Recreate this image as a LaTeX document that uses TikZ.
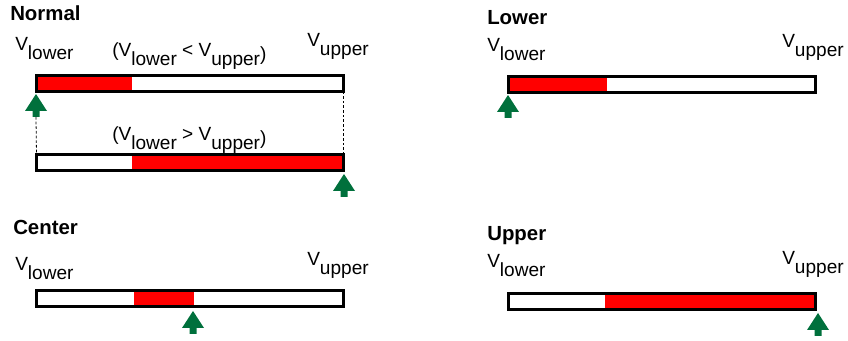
\documentclass[tikz,border=0pt]{standalone}
\usepackage{fontspec}
\setmainfont{Liberation Sans}
\definecolor{pointgreen}{RGB}{0,112,60}
\newcommand{\vsub}[1]{V\raisebox{-0.45em}{#1}}

\begin{document}
\begin{tikzpicture}[
    x=0.75pt, y=-0.75pt,
    heading/.style={
        inner sep=0, anchor=base west, font=\bfseries\fontsize{15.3}{18}\selectfont
    },
    vtext/.style={
        inner sep=0, anchor=base west, font=\fontsize{14.3}{17}\selectfont
    },
    bar/.style={
        draw, line width=1.9pt, fill=white, rectangle, inner sep=0, outer sep=0,
        minimum width=307*0.75pt, minimum height=16*0.75pt, anchor=north west
    },
    redpart/.style 2 args={
        path picture={\fill[red] ([xshift=#1*0.75pt]path picture bounding box.south west)
            rectangle ([xshift=#2*0.75pt]path picture bounding box.north west);}
    },
    guide/.style={dash pattern=on 2pt off 1.5pt, line width=0.6pt},
    pointer/.pic={
        \fill[pointgreen] (0,0) -- (11,17) -- (3.5,17) -- (3.5,23) -- (-3.5,23)
            -- (-3.5,17) -- (-11,17) -- cycle;
        \coordinate (-tail) at (0,23);
    }
]
\useasboundingbox (0,0) rectangle (848,341);

% Normal
\node[heading] (normal) at (10,21) {Normal};
\node[vtext] (normlow) at (15,51) {\vsub{lower}};
\node[vtext] (normup) at (307,47) {\vsub{upper}};
\node[vtext] (lessthan) at (112,57) {(\vsub{lower} < \vsub{upper}\raisebox{-3pt}{)}};
\node[vtext] (morethan) at (112,141) {(\vsub{lower} > \vsub{upper}\raisebox{-3pt}{)}};
\node[bar, redpart={0}{95}] (normbarA) at (36.5,75.5) {};
\node[bar, redpart={95}{320}] (normbarB) at (36.5,154.5) {};
\pic (ptnormA) at (36,94) {pointer};
\pic (ptnormB) at (344,174) {pointer};
\draw[guide] (ptnormA-tail) -- (normbarB.north west);
\draw[guide] (normbarA.south east) -- (normbarB.north east);

% Center
\node[heading] (center) at (13,235) {Center};
\node[vtext] (centlow) at (15,271) {\vsub{lower}};
\node[vtext] (centup) at (307,266) {\vsub{upper}};
\node[bar, redpart={97}{157}] (centbar) at (36.5,290.5) {};
\pic (ptcent) at (193,311) {pointer};

% Lower
\node[heading] (lower) at (487,25) {Lower};
\node[vtext] (lowlow) at (487,52) {\vsub{lower}};
\node[vtext] (lowup) at (782,48) {\vsub{upper}};
\node[bar, redpart={0}{98}] (lowbar) at (508.5,76.5) {};
\pic (ptlow) at (508,95) {pointer};

% Upper
\node[heading] (upper) at (487,241) {Upper};
\node[vtext] (uplow) at (487,268) {\vsub{lower}};
\node[vtext] (upup) at (782,265) {\vsub{upper}};
\node[bar, redpart={96}{320}] (upbar) at (508.5,293.5) {};
\pic (ptup) at (818,313) {pointer};
\end{tikzpicture}
\end{document}
